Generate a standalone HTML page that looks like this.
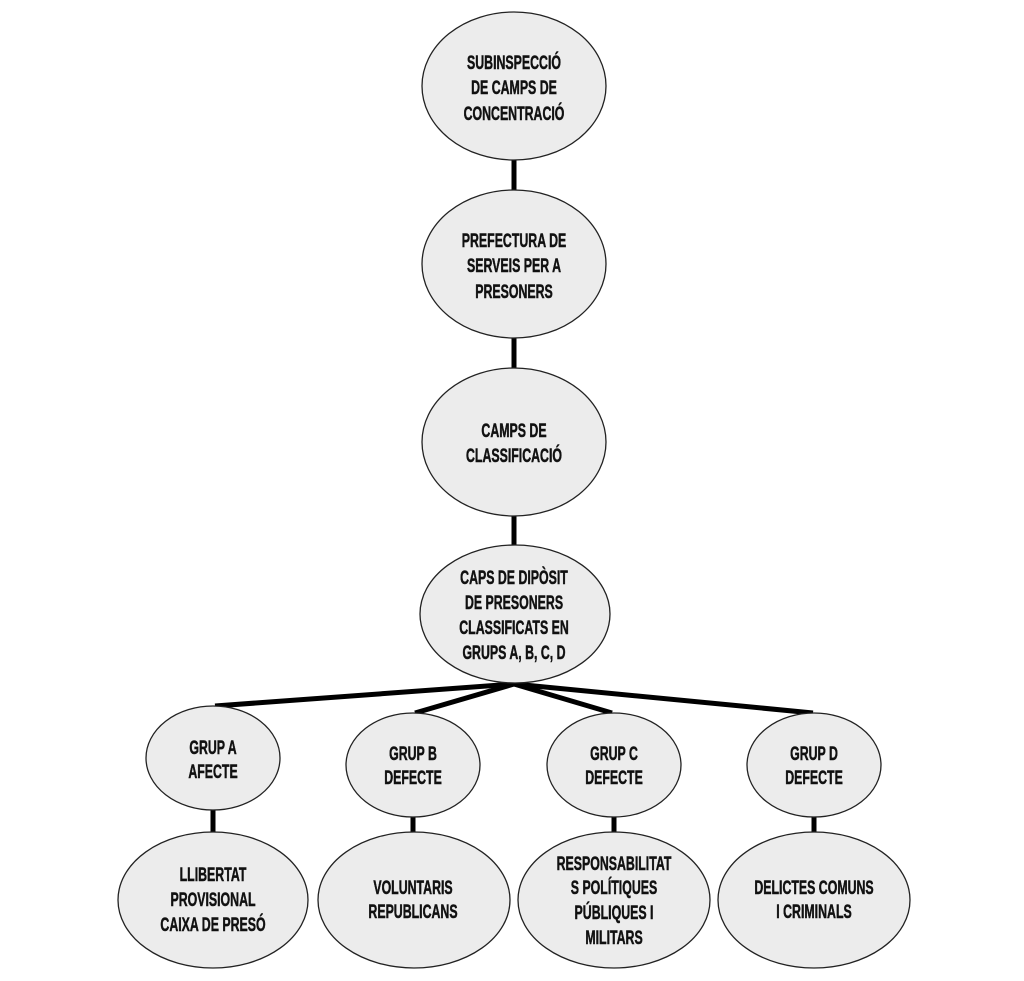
<!DOCTYPE html>
<html><head><meta charset="utf-8"><style>
html,body{margin:0;padding:0;background:#fff;}
svg{display:block;}
text{font-family:"Liberation Sans",sans-serif;font-weight:bold;font-size:19px;fill:#111;stroke:#111;stroke-width:0.5;text-anchor:middle;dominant-baseline:central;}
</style></head><body>
<svg width="1024" height="981" viewBox="0 0 1024 981" xmlns="http://www.w3.org/2000/svg">
<g stroke="#000" stroke-width="5" fill="none">
<line x1="514" y1="160" x2="514" y2="192"/>
<line x1="514" y1="338" x2="514" y2="370"/>
<line x1="514" y1="515" x2="514" y2="547"/>
<line x1="514" y1="684" x2="215" y2="706"/>
<line x1="514" y1="684" x2="415" y2="713"/>
<line x1="514" y1="684" x2="612" y2="713"/>
<line x1="514" y1="684" x2="813" y2="713"/>
<line x1="213" y1="810" x2="213" y2="834"/>
<line x1="413" y1="817" x2="413" y2="834"/>
<line x1="614" y1="817" x2="614" y2="834"/>
<line x1="814" y1="817" x2="814" y2="834"/>
</g>
<g fill="#ececec" stroke="#222" stroke-width="1.3">
<ellipse cx="514" cy="86" rx="92" ry="74"/>
<ellipse cx="514" cy="264" rx="92" ry="74"/>
<ellipse cx="514" cy="442" rx="92" ry="74"/>
<ellipse cx="515" cy="614" rx="95" ry="69"/>
<ellipse cx="213" cy="758" rx="67" ry="52"/>
<ellipse cx="413" cy="765" rx="67" ry="52"/>
<ellipse cx="614" cy="765" rx="67" ry="52"/>
<ellipse cx="814" cy="765" rx="67" ry="52"/>
<ellipse cx="213" cy="900" rx="95" ry="68"/>
<ellipse cx="414" cy="900" rx="96" ry="68"/>
<ellipse cx="614" cy="900" rx="96" ry="68"/>
<ellipse cx="814" cy="900" rx="96" ry="68"/>
</g>
<g transform="translate(514,0) scale(0.65,1)">
<text x="0" y="63">SUBINSPECCIÓ</text>
<text x="0" y="88">DE CAMPS DE</text>
<text x="0" y="114">CONCENTRACIÓ</text>
<text x="0" y="241">PREFECTURA DE</text>
<text x="0" y="266">SERVEIS PER A</text>
<text x="0" y="292">PRESONERS</text>
<text x="0" y="431">CAMPS DE</text>
<text x="0" y="456">CLASSIFICACIÓ</text>
<text x="0" y="578">CAPS DE DIPÒSIT</text>
<text x="0" y="603">DE PRESONERS</text>
<text x="0" y="628">CLASSIFICATS EN</text>
<text x="0" y="653">GRUPS A, B, C, D</text>
</g>
<g transform="translate(213,0) scale(0.65,1)">
<text x="0" y="748">GRUP A</text>
<text x="0" y="772">AFECTE</text>
<text x="0" y="875">LLIBERTAT</text>
<text x="0" y="900">PROVISIONAL</text>
<text x="0" y="925">CAIXA DE PRESÓ</text>
</g>
<g transform="translate(413,0) scale(0.65,1)">
<text x="0" y="754">GRUP B</text>
<text x="0" y="778">DEFECTE</text>
<text x="0" y="888">VOLUNTARIS</text>
<text x="0" y="912">REPUBLICANS</text>
</g>
<g transform="translate(614,0) scale(0.65,1)">
<text x="0" y="754">GRUP C</text>
<text x="0" y="778">DEFECTE</text>
<text x="0" y="864">RESPONSABILITAT</text>
<text x="0" y="888">S POLÍTIQUES</text>
<text x="0" y="913">PÚBLIQUES I</text>
<text x="0" y="938">MILITARS</text>
</g>
<g transform="translate(814,0) scale(0.65,1)">
<text x="0" y="754">GRUP D</text>
<text x="0" y="778">DEFECTE</text>
<text x="0" y="888">DELICTES COMUNS</text>
<text x="0" y="912">I CRIMINALS</text>
</g>
</svg>
</body></html>
